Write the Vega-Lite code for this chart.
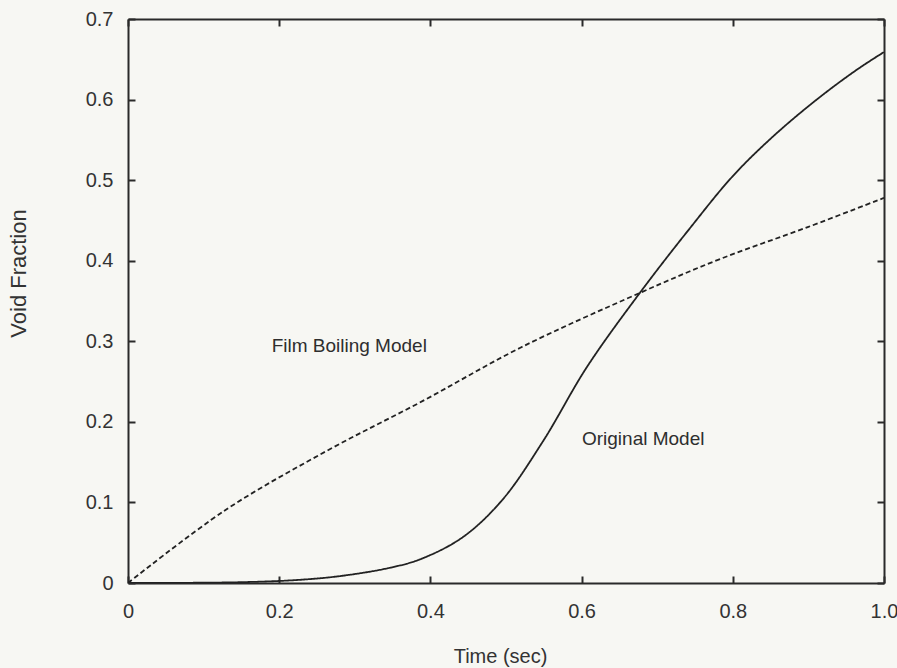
{
  "$schema": "https://vega.github.io/schema/vega-lite/v6.json",
  "width": 756,
  "height": 564,
  "autosize": {"type": "none"},
  "padding": {"left": 128, "top": 19, "right": 13, "bottom": 85},
  "background": "#f7f7f3",
  "config": {
    "view": {"stroke": null},
    "font": "Liberation Sans",
    "axis": {
      "grid": false,
      "domainColor": "#2a2a2a",
      "domainWidth": 2,
      "tickColor": "#2a2a2a",
      "tickWidth": 2,
      "tickSize": -7,
      "labelFont": "Liberation Sans",
      "labelFontSize": 20,
      "labelColor": "#333333",
      "titleFont": "Liberation Sans",
      "titleFontSize": 20,
      "titleFontWeight": "normal",
      "titleColor": "#333333"
    }
  },
  "datasets": {
    "curves": [
      {"t": 0.0, "v": 0.0, "series": "Film Boiling Model"},
      {"t": 0.128, "v": 0.09, "series": "Film Boiling Model"},
      {"t": 0.261, "v": 0.163, "series": "Film Boiling Model"},
      {"t": 0.39, "v": 0.226, "series": "Film Boiling Model"},
      {"t": 0.519, "v": 0.292, "series": "Film Boiling Model"},
      {"t": 0.677, "v": 0.36, "series": "Film Boiling Model"},
      {"t": 0.783, "v": 0.402, "series": "Film Boiling Model"},
      {"t": 0.9, "v": 0.442, "series": "Film Boiling Model"},
      {"t": 1.0, "v": 0.478, "series": "Film Boiling Model"},
      {"t": 0.0, "v": 0.0, "series": "Original Model"},
      {"t": 0.15, "v": 0.001, "series": "Original Model"},
      {"t": 0.228, "v": 0.004, "series": "Original Model"},
      {"t": 0.284, "v": 0.009, "series": "Original Model"},
      {"t": 0.347, "v": 0.019, "series": "Original Model"},
      {"t": 0.388, "v": 0.03, "series": "Original Model"},
      {"t": 0.443, "v": 0.057, "series": "Original Model"},
      {"t": 0.495, "v": 0.103, "series": "Original Model"},
      {"t": 0.549, "v": 0.176, "series": "Original Model"},
      {"t": 0.607, "v": 0.268, "series": "Original Model"},
      {"t": 0.677, "v": 0.36, "series": "Original Model"},
      {"t": 0.743, "v": 0.44, "series": "Original Model"},
      {"t": 0.8, "v": 0.505, "series": "Original Model"},
      {"t": 0.853, "v": 0.554, "series": "Original Model"},
      {"t": 0.911, "v": 0.6, "series": "Original Model"},
      {"t": 0.964, "v": 0.637, "series": "Original Model"},
      {"t": 1.0, "v": 0.659, "series": "Original Model"}
    ],
    "labels": [
      {"t": 0.19, "v": 0.287, "label": "Film Boiling Model"},
      {"t": 0.6005, "v": 0.171, "label": "Original Model"}
    ]
  },
  "resolve": {"axis": {"x": "independent", "y": "independent"}},
  "layer": [
    {
      "data": {"name": "curves"},
      "mark": {"type": "line", "color": "#222222", "strokeWidth": 1.8, "interpolate": "catmull-rom", "clip": true},
      "encoding": {
        "x": {
          "field": "t", "type": "quantitative",
          "scale": {"domain": [0, 1], "nice": false, "zero": false},
          "axis": {
            "title": "Time (sec)",
            "values": [0, 0.2, 0.4, 0.6, 0.8, 1.0],
            "labelExpr": "datum.value == 0 ? '0' : datum.value == 1 ? '1.0' : format(datum.value, '.1f')",
            "labelPadding": 25,
            "titlePadding": 25,
            "titleX": 372,
            "labelFlush": false
          }
        },
        "y": {
          "field": "v", "type": "quantitative",
          "scale": {"domain": [0, 0.7], "nice": false},
          "axis": {
            "title": "Void Fraction",
            "titleFontSize": 22,
            "values": [0, 0.1, 0.2, 0.3, 0.4, 0.5, 0.6, 0.7],
            "labelExpr": "datum.value == 0 ? '0' : format(datum.value, '.1f')",
            "labelPadding": 22,
            "titleX": -110,
            "titleY": 254,
            "titleBaseline": "middle",
            "labelFlush": false
          }
        },
        "detail": {"field": "series"},
        "strokeDash": {
          "field": "series", "type": "nominal",
          "scale": {"domain": ["Film Boiling Model", "Original Model"], "range": [[5, 3], [1, 0]]},
          "legend": null
        }
      }
    },
    {
      "data": {"name": "labels"},
      "mark": {"type": "text", "align": "left", "baseline": "alphabetic", "fontSize": 19, "font": "Liberation Sans", "color": "#2e2e2e"},
      "encoding": {
        "x": {
          "field": "t", "type": "quantitative",
          "scale": {"domain": [0, 1], "nice": false, "zero": false},
          "axis": {"orient": "top", "title": null, "labels": false, "values": [0, 0.2, 0.4, 0.6, 0.8, 1.0]}
        },
        "y": {
          "field": "v", "type": "quantitative",
          "scale": {"domain": [0, 0.7], "nice": false},
          "axis": {"orient": "right", "title": null, "labels": false, "values": [0, 0.1, 0.2, 0.3, 0.4, 0.5, 0.6, 0.7]}
        },
        "text": {"field": "label"}
      }
    }
  ]
}
